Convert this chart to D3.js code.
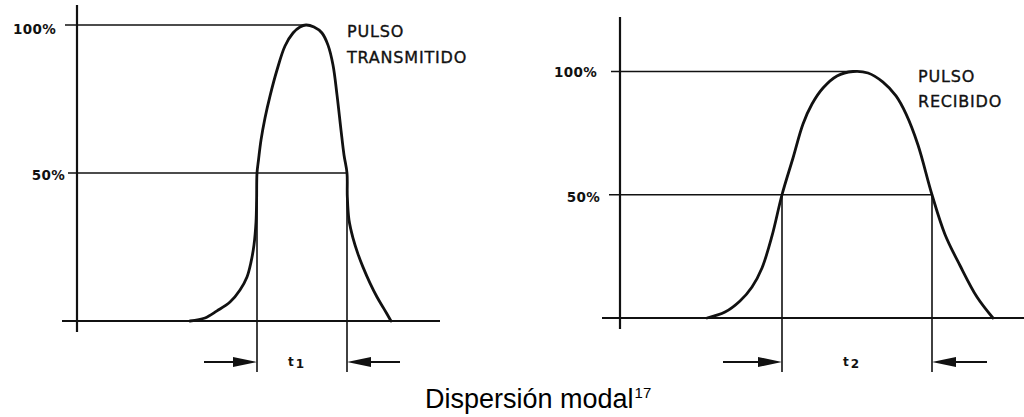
<!DOCTYPE html>
<html>
<head>
<meta charset="utf-8">
<script src="https://cdn.jsdelivr.net/npm/d3@7"></script>
<style>
  html, body { margin: 0; padding: 0; background: #fff; }
  svg { display: block; }
</style>
</head>
<body>
<svg id="chart" width="1024" height="417"></svg>
<script>
// Transmitted pulse: time (arbitrary units) and relative amplitude (%)
const txTime  = [11.3, 12.8, 14.0, 15.3, 16.3, 17.0, 17.4, 17.7, 17.9, 17.96, 18.0, 18.15, 18.4, 18.8, 19.3, 20.0, 20.8, 21.6, 22.3, 22.9, 23.7, 24.5, 25.1, 25.6, 26.0, 26.4, 26.7, 27.0, 27.03, 27.2, 27.6, 28.1, 28.6, 29.3, 30.0, 30.7, 31.4];
const txLevel = [0, 1.0, 3.4, 6.4, 10.5, 14.9, 19.9, 25.7, 33.4, 40.9, 50, 54.4, 61.1, 68.6, 76.0, 84.8, 92.9, 97.3, 99.3, 100, 99.3, 97.3, 93.2, 86.5, 76.4, 64.5, 56.1, 50, 42.2, 34.1, 28.0, 22.6, 18.2, 12.8, 8.1, 4.1, 0];

// Received (dispersed) pulse
const rxTime  = [8.7, 10.5, 12.0, 13.2, 14.2, 15.2, 16.2, 17.3, 18.3, 19.2, 20.3, 21.7, 23.3, 24.8, 26.3, 27.6, 28.6, 29.8, 31.2, 32.5, 34.0, 35.7, 37.3];
const rxLevel = [0, 2.4, 6.9, 12.6, 20.3, 33.3, 50, 64.9, 78.7, 86.8, 93.3, 98.2, 100, 99.4, 95.7, 90.1, 82.8, 70.2, 50, 33.9, 21.3, 8.5, 0];

// Half-amplitude crossing times (pulse widths t1, t2) and peak times
const txHalfTimes = [18.0, 27.0];
const rxHalfTimes = [16.2, 31.2];
const txPeakTime = 22.9;
const rxPeakTime = 23.3;

// Amplitude reference levels and their labels
const levelTicks = [50, 100];
const levelLabels = ["50%", "100%"];

// Text
const txTitle = ["PULSO", "TRANSMITIDO"];
const rxTitle = ["PULSO", "RECIBIDO"];
const widthSymbols = [["t", "1"], ["t", "2"]];
const captionText = "Dispersión modal";
const captionRef = "17";

// Panel geometry
const panels = [
  {
    time: txTime, level: txLevel, half: txHalfTimes, peak: txPeakTime,
    title: txTitle, sym: widthSymbols[0],
    x0: 77, yBase: 321, yTop: 25, axisTop: 5, axisBottom: 332,
    baseLeft: 62, baseRight: 440,
    refStart: { 100: 65, 50: 68 }, labelRight: { 100: 56, 50: 65 }, labelDy: { 100: 4, 50: 2 },
    arrowY: 362, dropBottom: 372, arrowLen: [53, 53], symX: 296,
    titleX: 347, titleY: [37, 63]
  },
  {
    time: rxTime, level: rxLevel, half: rxHalfTimes, peak: rxPeakTime,
    title: rxTitle, sym: widthSymbols[1],
    x0: 620, yBase: 318, yTop: 71.5, axisTop: 17, axisBottom: 329,
    baseLeft: 602, baseRight: 1024,
    refStart: { 100: 611, 50: 609 }, labelRight: { 100: 597, 50: 600 }, labelDy: { 100: 1, 50: 2 },
    arrowY: 362, dropBottom: 372, arrowLen: [59, 55], symX: 851,
    titleX: 918, titleY: [82, 107]
  }
];

const svg = d3.select("#chart");
const ink = "#111";

panels.forEach(p => {
  const x = d3.scaleLinear().domain([0, 40]).range([p.x0, p.x0 + 400]);
  const y = d3.scaleLinear().domain([0, 100]).range([p.yBase, p.yTop]);
  const g = svg.append("g");

  // vertical amplitude axis
  g.append("line")
    .attr("x1", p.x0).attr("x2", p.x0)
    .attr("y1", p.axisTop).attr("y2", p.axisBottom)
    .attr("stroke", ink).attr("stroke-width", 2.2);

  // time axis
  g.append("line")
    .attr("x1", p.baseLeft).attr("x2", p.baseRight)
    .attr("y1", y(0)).attr("y2", y(0))
    .attr("stroke", ink).attr("stroke-width", 2.2);

  // level labels via d3 axis
  const axis = d3.axisLeft(y).tickValues(levelTicks)
    .tickFormat((d, i) => levelLabels[i]).tickSize(0).tickPadding(0);
  const ag = g.append("g").attr("transform", `translate(${p.x0},0)`).call(axis);
  ag.select(".domain").remove();
  ag.selectAll("text")
    .attr("x", d => p.labelRight[d] - p.x0)
    .attr("dy", d => (0.32 + p.labelDy[d] / 13) + "em")
    .style("font-family", "'DejaVu Sans', sans-serif")
    .style("font-weight", "bold")
    .style("font-size", "13.5px")
    .style("letter-spacing", "0.3px")
    .attr("fill", ink);

  // reference lines at 100% (to the peak) and 50% (to the trailing half-point)
  const refEnds = { 100: p.peak, 50: p.half[1] };
  levelTicks.forEach(v => {
    g.append("line")
      .attr("x1", p.refStart[v]).attr("x2", x(refEnds[v]))
      .attr("y1", y(v)).attr("y2", y(v))
      .attr("stroke", ink).attr("stroke-width", 1.6);
  });

  // drop lines at half-amplitude crossings
  p.half.forEach(t => {
    g.append("line")
      .attr("x1", x(t)).attr("x2", x(t))
      .attr("y1", y(50)).attr("y2", p.dropBottom)
      .attr("stroke", ink).attr("stroke-width", 1.6);
  });

  // pulse curve
  const pts = p.time.map((t, i) => [t, p.level[i]]);
  const line = d3.line().x(d => x(d[0])).y(d => y(d[1])).curve(d3.curveCatmullRom.alpha(0.5));
  g.append("path").datum(pts)
    .attr("d", line)
    .attr("fill", "none").attr("stroke", ink)
    .attr("stroke-width", 2.8).attr("stroke-linejoin", "round").attr("stroke-linecap", "round");

  // width arrows pointing inward to the drop lines
  const headLen = 24, headHalf = 5;
  [[x(p.half[0]), -1, p.arrowLen[0]], [x(p.half[1]), 1, p.arrowLen[1]]].forEach(([tip, side, len]) => {
    g.append("line")
      .attr("x1", tip + side * len).attr("x2", tip + side * headLen * 0.5)
      .attr("y1", p.arrowY).attr("y2", p.arrowY)
      .attr("stroke", ink).attr("stroke-width", 1.8);
    g.append("path")
      .attr("d", `M${tip},${p.arrowY} L${tip + side * headLen},${p.arrowY - headHalf} L${tip + side * headLen},${p.arrowY + headHalf} Z`)
      .attr("fill", ink);
  });

  // width symbol (t1 / t2)
  const sym = g.append("text")
    .attr("x", p.symX).attr("y", p.arrowY + 4)
    .attr("text-anchor", "middle")
    .style("font-family", "'DejaVu Sans', sans-serif")
    .style("font-weight", "bold")
    .style("font-size", "12px")
    .attr("fill", ink);
  sym.append("tspan").text(p.sym[0]);
  sym.append("tspan").attr("dx", 2).attr("dy", 2).text(p.sym[1]);

  // pulse title
  p.title.forEach((s, i) => {
    g.append("text")
      .attr("x", p.titleX).attr("y", p.titleY[i])
      .style("font-family", "'DejaVu Sans', sans-serif")
      .style("font-size", "16px")
      .style("letter-spacing", "0.8px")
      .attr("fill", ink).attr("stroke", ink).attr("stroke-width", 0.35)
      .text(s);
  });
});

// caption with reference note
const cap = svg.append("text")
  .attr("x", 425).attr("y", 408)
  .style("font-family", "'Liberation Sans', Arial, sans-serif")
  .style("font-size", "27px")
  .attr("fill", "#000");
cap.append("tspan").text(captionText);
cap.append("tspan").attr("dx", 1).attr("dy", -10).style("font-size", "15px").text(captionRef);
</script>
</body>
</html>
